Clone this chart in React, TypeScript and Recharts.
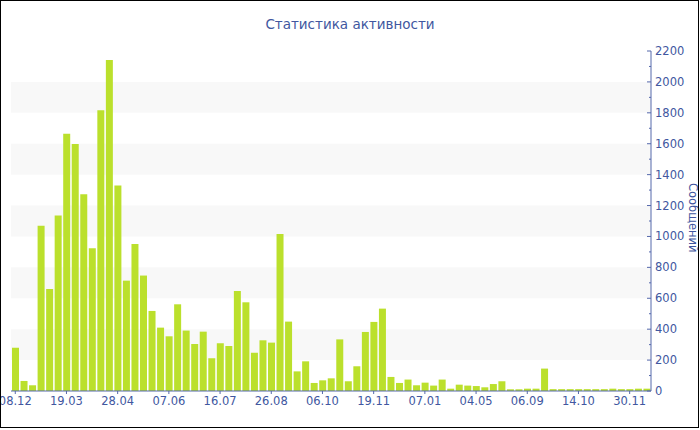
import React from 'react';
import { BarChart, Bar, XAxis, YAxis, ReferenceArea } from 'recharts';

// message counts per period
const messageCounts = [
  280, 65, 37, 1070, 660, 1135, 1665, 1598, 1273, 923,
  1816, 2142, 1329, 714, 951, 747, 518, 410, 354, 561,
  391, 304, 384, 212, 309, 291, 647, 574, 248, 328,
  313, 1016, 449, 127, 192, 52, 69, 82, 334, 63,
  160, 382, 447, 533, 91, 52, 74, 37, 54, 35,
  74, 15, 41, 35, 32, 24, 45, 63, 11, 11,
  15, 15, 145, 12, 12, 12, 12, 12, 12, 12,
  15, 12, 12, 15, 15,
];

// a date label sits under every 6th bar
const xTickLabels = [
  '08.12', '19.03', '28.04', '07.06', '16.07', '26.08', '06.10',
  '19.11', '07.01', '04.05', '06.09', '14.10', '30.11',
];
const X_TICK_STEP = 6;

const yTicks = [0, 200, 400, 600, 800, 1000, 1200, 1400, 1600, 1800, 2000, 2200];
const yMinorTicks = yTicks.slice(0, -1).map((t) => t + 100);

const TEXT_COLOR = '#4157a0';
const AXIS_COLOR = '#5568ab';
const BAR_COLOR = '#bbe02c';
const BAND_COLOR = '#f8f8f8';

const data = messageCounts.map((v, i) => ({ i, v }));

// right axis tick: short tick drawn inwards, minor ticks without a label
function RightTick(props: any) {
  const { x, y, payload } = props;
  const axisX = x - 4;
  const major = payload.value % 200 === 0;
  return (
    <g>
      <line
        x1={axisX - (major ? 4 : 2)}
        x2={axisX}
        y1={y}
        y2={y}
        stroke={AXIS_COLOR}
      />
      {major && (
        <text
          x={x}
          y={y}
          dy="0.35em"
          textAnchor="start"
          fill={TEXT_COLOR}
          fontSize={11.5}
          fontFamily="DejaVu Sans"
        >
          {payload.value}
        </text>
      )}
    </g>
  );
}

export default function App() {
  const xTicks = xTickLabels.map((_, k) => k * X_TICK_STEP);
  return (
    <div style={{ position: 'relative', width: 700, height: 430, fontFamily: 'DejaVu Sans' }}>
      <style>{'body{margin:0}'}</style>
      <BarChart
        width={700}
        height={430}
        data={data}
        margin={{ top: 51, right: 9, left: 11, bottom: 9 }}
        barCategoryGap={1}
      >
        {yTicks.map((t, k) =>
          k % 2 === 1 && k < yTicks.length - 1 ? (
            <ReferenceArea
              key={t}
              y1={t}
              y2={yTicks[k + 1]}
              fill={BAND_COLOR}
              fillOpacity={1}
              stroke="none"
            />
          ) : null
        )}
        <XAxis
          dataKey="i"
          type="category"
          ticks={xTicks}
          interval={0}
          tickFormatter={(i: number) => xTickLabels[i / X_TICK_STEP]}
          height={30}
          stroke={AXIS_COLOR}
          tick={{ fill: TEXT_COLOR, fontSize: 11.5, fontFamily: 'DejaVu Sans' }}
          tickSize={3}
          tickMargin={3}
        />
        <YAxis
          orientation="right"
          domain={[0, 2200]}
          ticks={[...yTicks, ...yMinorTicks].sort((a, b) => a - b)}
          interval={0}
          width={40}
          stroke={AXIS_COLOR}
          tickLine={false}
          tickSize={0}
          tickMargin={4}
          tick={<RightTick />}
        />
        <Bar dataKey="v" fill={BAR_COLOR} isAnimationActive={false} />
      </BarChart>
      <div
        style={{
          position: 'absolute',
          top: 16,
          left: 0,
          width: 700,
          textAlign: 'center',
          color: TEXT_COLOR,
          fontSize: 13.5,
        }}
      >
        Статистика активности
      </div>
      <div
        style={{
          position: 'absolute',
          left: 686,
          top: 183,
          writingMode: 'vertical-rl',
          color: TEXT_COLOR,
          fontSize: 11.5,
          lineHeight: '13px',
        }}
      >
        Сообщений
      </div>
      <div
        style={{
          position: 'absolute',
          left: 0,
          top: 0,
          width: 699,
          height: 428,
          border: '1px solid #000',
          boxSizing: 'border-box',
          pointerEvents: 'none',
        }}
      />
    </div>
  );
}
